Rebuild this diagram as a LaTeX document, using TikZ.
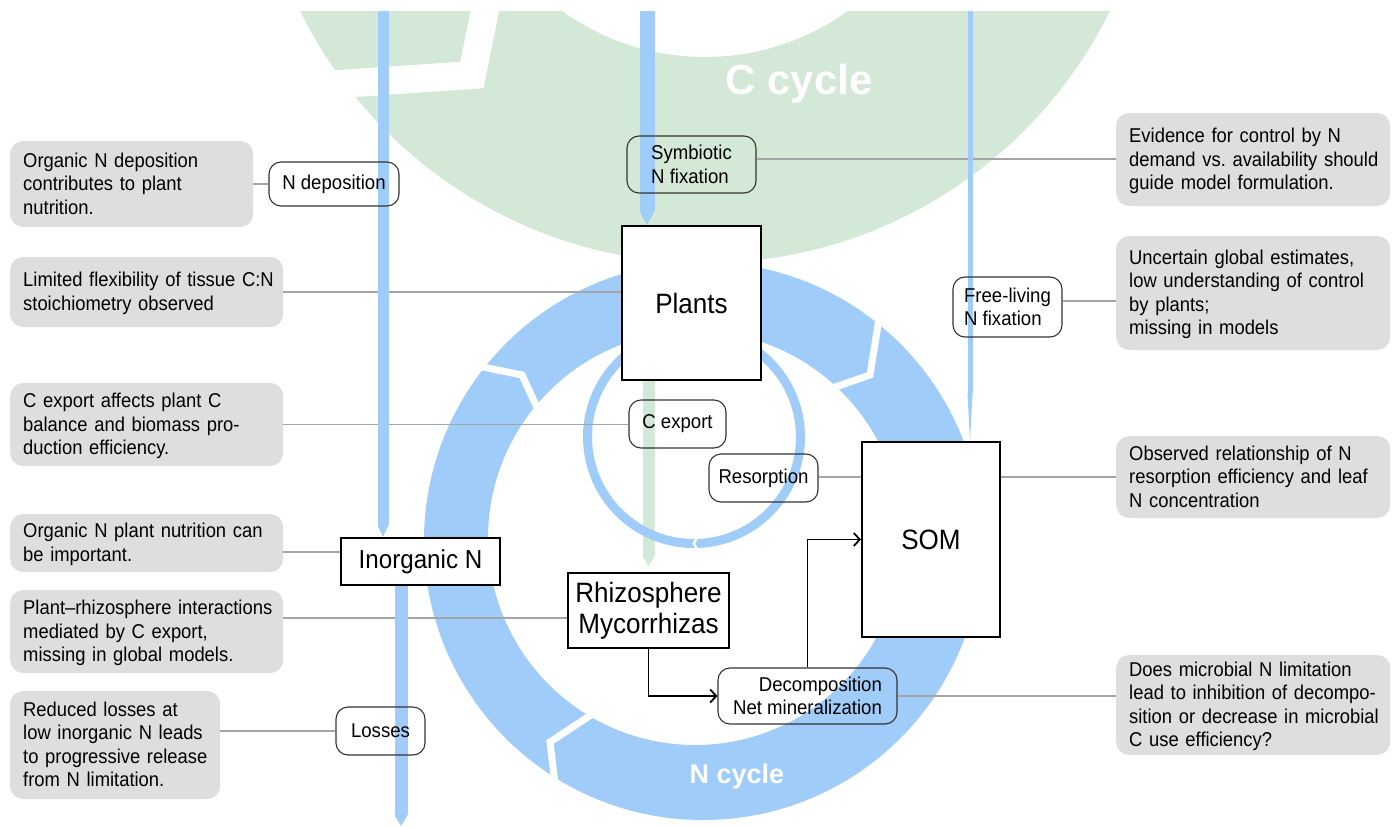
\documentclass[tikz,border=0pt]{standalone}
\usepackage{fontspec}
\setmainfont{Liberation Sans}
\newfontfamily\narrowsans[FakeStretch=0.93]{Liberation Sans}
\newfontfamily\notesans[FakeStretch=0.92]{Liberation Sans}
\usepackage{xcolor}
\usepackage{tikz}
\usetikzlibrary{arrows.meta, positioning}

\definecolor{cgreen}{RGB}{211,232,214}
\definecolor{nblue}{RGB}{160,204,250}
\definecolor{notegray}{RGB}{222,222,222}
\definecolor{linkgray}{RGB}{165,165,165}

\newcommand{\notelines}[1]{\raisebox{-2pt}[\height][\depth]{\begin{tabular}{@{}l@{}}#1\end{tabular}}}

\pgfdeclarelayer{back}
\pgfdeclarelayer{mid}
\pgfsetlayers{back,mid,main}

\tikzset{
	pool/.style={draw=black, line width=2pt, fill=white, align=center, inner sep=0pt, font=\narrowsans\fontsize{28}{31}\selectfont},
	flux/.style={draw=black!80, line width=1.1pt, rounded corners=12pt, inner sep=0pt, font=\narrowsans\fontsize{20}{23.5}\selectfont},
	note/.style={fill=notegray, rounded corners=13pt, anchor=west, align=left, text width=247pt, inner xsep=13pt, inner ysep=0pt, font=\notesans\fontsize{20}{23.5}\selectfont},
	link/.style={draw=linkgray, line width=1.1pt},
	nflow/.style 2 args={draw=nblue, line width=#1, -{Triangle[width=#1, length=#2, line width=0pt]}},
	cflow/.style 2 args={draw=cgreen, line width=#1, -{Triangle[width=#1, length=#2, line width=0pt]}},
	notch/.style={draw=white, line width=#1},
	feed/.style={draw=black, line width=1.8pt, -{Straight Barb[length=6pt, width=13pt]}},
	cyclelabel/.style={text=white, font=\bfseries\fontsize{#1}{#1}\selectfont}
}

\begin{document}
\begin{tikzpicture}[x=1pt, y=-1pt]
	\useasboundingbox (0,0) rectangle (1395,827);

	% pools
	\node[pool, minimum width=139pt, minimum height=154pt] (plants) at (691.5,303) {Plants};
	\node[pool, minimum width=138pt, minimum height=195pt] (som) at (931,539.5) {SOM};
	\node[pool, minimum width=159pt, minimum height=47pt, font=\narrowsans\fontsize{26}{28}\selectfont] (inorg) at (420.5,561.5) {Inorganic N};
	\node[pool, minimum width=161pt, minimum height=75pt] (rhizo) at (648.5,610.5) {Rhizosphere\\Mycorrhizas};

	% fluxes
	\node[flux, minimum width=130pt, minimum height=44pt] (ndep) at (334,184) {N deposition};
	\node[flux, minimum width=129pt, minimum height=57pt, align=left] (symfix) at (691.5,164.5) {Symbiotic\\N fixation};
	\node[flux, minimum width=109pt, minimum height=60pt, align=left] (freefix) at (1007.5,307) {Free-living\\N fixation};
	\node[flux, minimum width=97pt, minimum height=48pt] (cexport) at (677.5,424) {C export};
	\node[flux, minimum width=109pt, minimum height=48pt] (resorp) at (763.5,478) {Resorption};
	\node[flux, minimum width=89pt, minimum height=48pt] (losses) at (380.5,731) {Losses};
	\node[flux, minimum width=179pt, minimum height=56pt, align=right] (decomp) at (807.5,696) {Decomposition\\Net mineralization};

	% notes
	\node[note, text width=217pt, minimum height=86pt] (note-l1) at (10,184) {\notelines{Organic N deposition\\contributes to plant\\nutrition.}};
	\node[note, minimum height=70pt] (note-l2) at (10,292) {\notelines{Limited flexibility of tissue C:N\\stoichiometry observed}};
	\node[note, minimum height=83pt] (note-l3) at (10,424.5) {\notelines{C export affects plant C\\balance and biomass pro-\\duction efficiency.}};
	\node[note, minimum height=58pt] (note-l4) at (10,543) {\notelines{Organic N plant nutrition can\\be important.}};
	\node[note, minimum height=83pt] (note-l5) at (10,631.5) {\notelines{Plant–rhizosphere interactions\\mediated by C export,\\missing in global models.}};
	\node[note, text width=184pt, minimum height=108pt] (note-l6) at (10,745) {\notelines{Reduced losses at\\low inorganic N leads\\to progressive release\\from N limitation.}};
	\node[note, text width=248pt, minimum height=93pt] (note-r1) at (1116,159.5) {\notelines{Evidence for control by N\\demand vs.\ availability should\\guide model formulation.}};
	\node[note, text width=248pt, minimum height=114pt] (note-r2) at (1116,293) {\notelines{Uncertain global estimates,\\low understanding of control\\by plants;\\missing in models}};
	\node[note, text width=248pt, minimum height=82pt] (note-r3) at (1116,477) {\notelines{Observed relationship of N\\resorption efficiency and leaf\\N concentration}};
	\node[note, text width=248pt, minimum height=100pt] (note-r4) at (1116,705) {\notelines{Does microbial N limitation\\lead to inhibition of decompo-\\sition or decrease in microbial\\C use efficiency?}};

	\coordinate (ndep-src) at (383,11);
	\coordinate (sym-src) at (647,11);
	\coordinate (free-src) at (970,11);
	\coordinate (loss-sink) at (401,826);

	\begin{pgfonlayer}{back}
		\fill[white] (0,0) rectangle (1395,827);
		\begin{scope}
			\clip (0,11) rectangle (1395,827);
			\fill[cgreen, even odd rule] (705,-188) circle[radius=451] (705,-188) circle[radius=245];
			\draw[notch=28pt] (310,86) -- (472,75) -- (505,-90);
		\end{scope}
		\fill[nblue, even odd rule] (703,541) circle[radius=279] (695,538) circle[radius=207];
		\draw[notch=7pt] (478,366) -- (522,375) -- (540,414);
		\draw[notch=7pt] (880,312) -- (870,375) -- (818,393);
		\draw[notch=7pt] (597,711) -- (550,742) -- (557,800);
		\draw[cflow={12pt}{10pt}] (rhizo.north |- plants.south) -- ([yshift=6pt]rhizo.north);
		\draw[nblue, line width=9pt] (694,437) circle[radius=106.5];
		\draw[notch=2.5pt] (699,533) -- (694,543.5) -- (699,554);
	\end{pgfonlayer}

	\begin{pgfonlayer}{mid}
		\draw[link] (note-l1.east) -- (ndep.west);
		\draw[link] (note-l2.east) -- (plants.west |- note-l2.east);
		\draw[link] (note-l3.east) -- (cexport.west |- note-l3.east);
		\draw[link] (note-l4.east |- 0,552) -- (inorg.west |- 0,552);
		\draw[link] (note-l5.east |- 0,618) -- (rhizo.west |- 0,618);
		\draw[link] (note-l6.east |- losses.west) -- (losses.west);
		\draw[link] (note-r1.west |- 0,159) -- (symfix.east |- 0,159);
		\draw[link] (note-r2.west |- 0,301) -- (freefix.east |- 0,301);
		\draw[link] (note-r3.west) -- (resorp.east |- note-r3.west);
		\draw[link] (note-r4.west |- decomp.east) -- (decomp.east);

		\draw[nflow={11pt}{12pt}] (ndep-src) -- (ndep-src |- inorg.north);
		\draw[nflow={15pt}{14pt}] (sym-src) -- (sym-src |- plants.north);
		\draw[nflow={5pt}{48pt}] (free-src) -- (free-src |- som.north);
		\draw[nflow={13pt}{11pt}] (loss-sink |- inorg.south) -- (loss-sink);
	\end{pgfonlayer}

	\draw[feed] (rhizo.south) |- (decomp.west);
	\draw[feed] (decomp.north) |- (som.west);

	\node[cyclelabel=42] (c-label) at (799,84) {C cycle};
	\node[cyclelabel=27] (n-label) at (737,777) {N cycle};
\end{tikzpicture}
\end{document}
